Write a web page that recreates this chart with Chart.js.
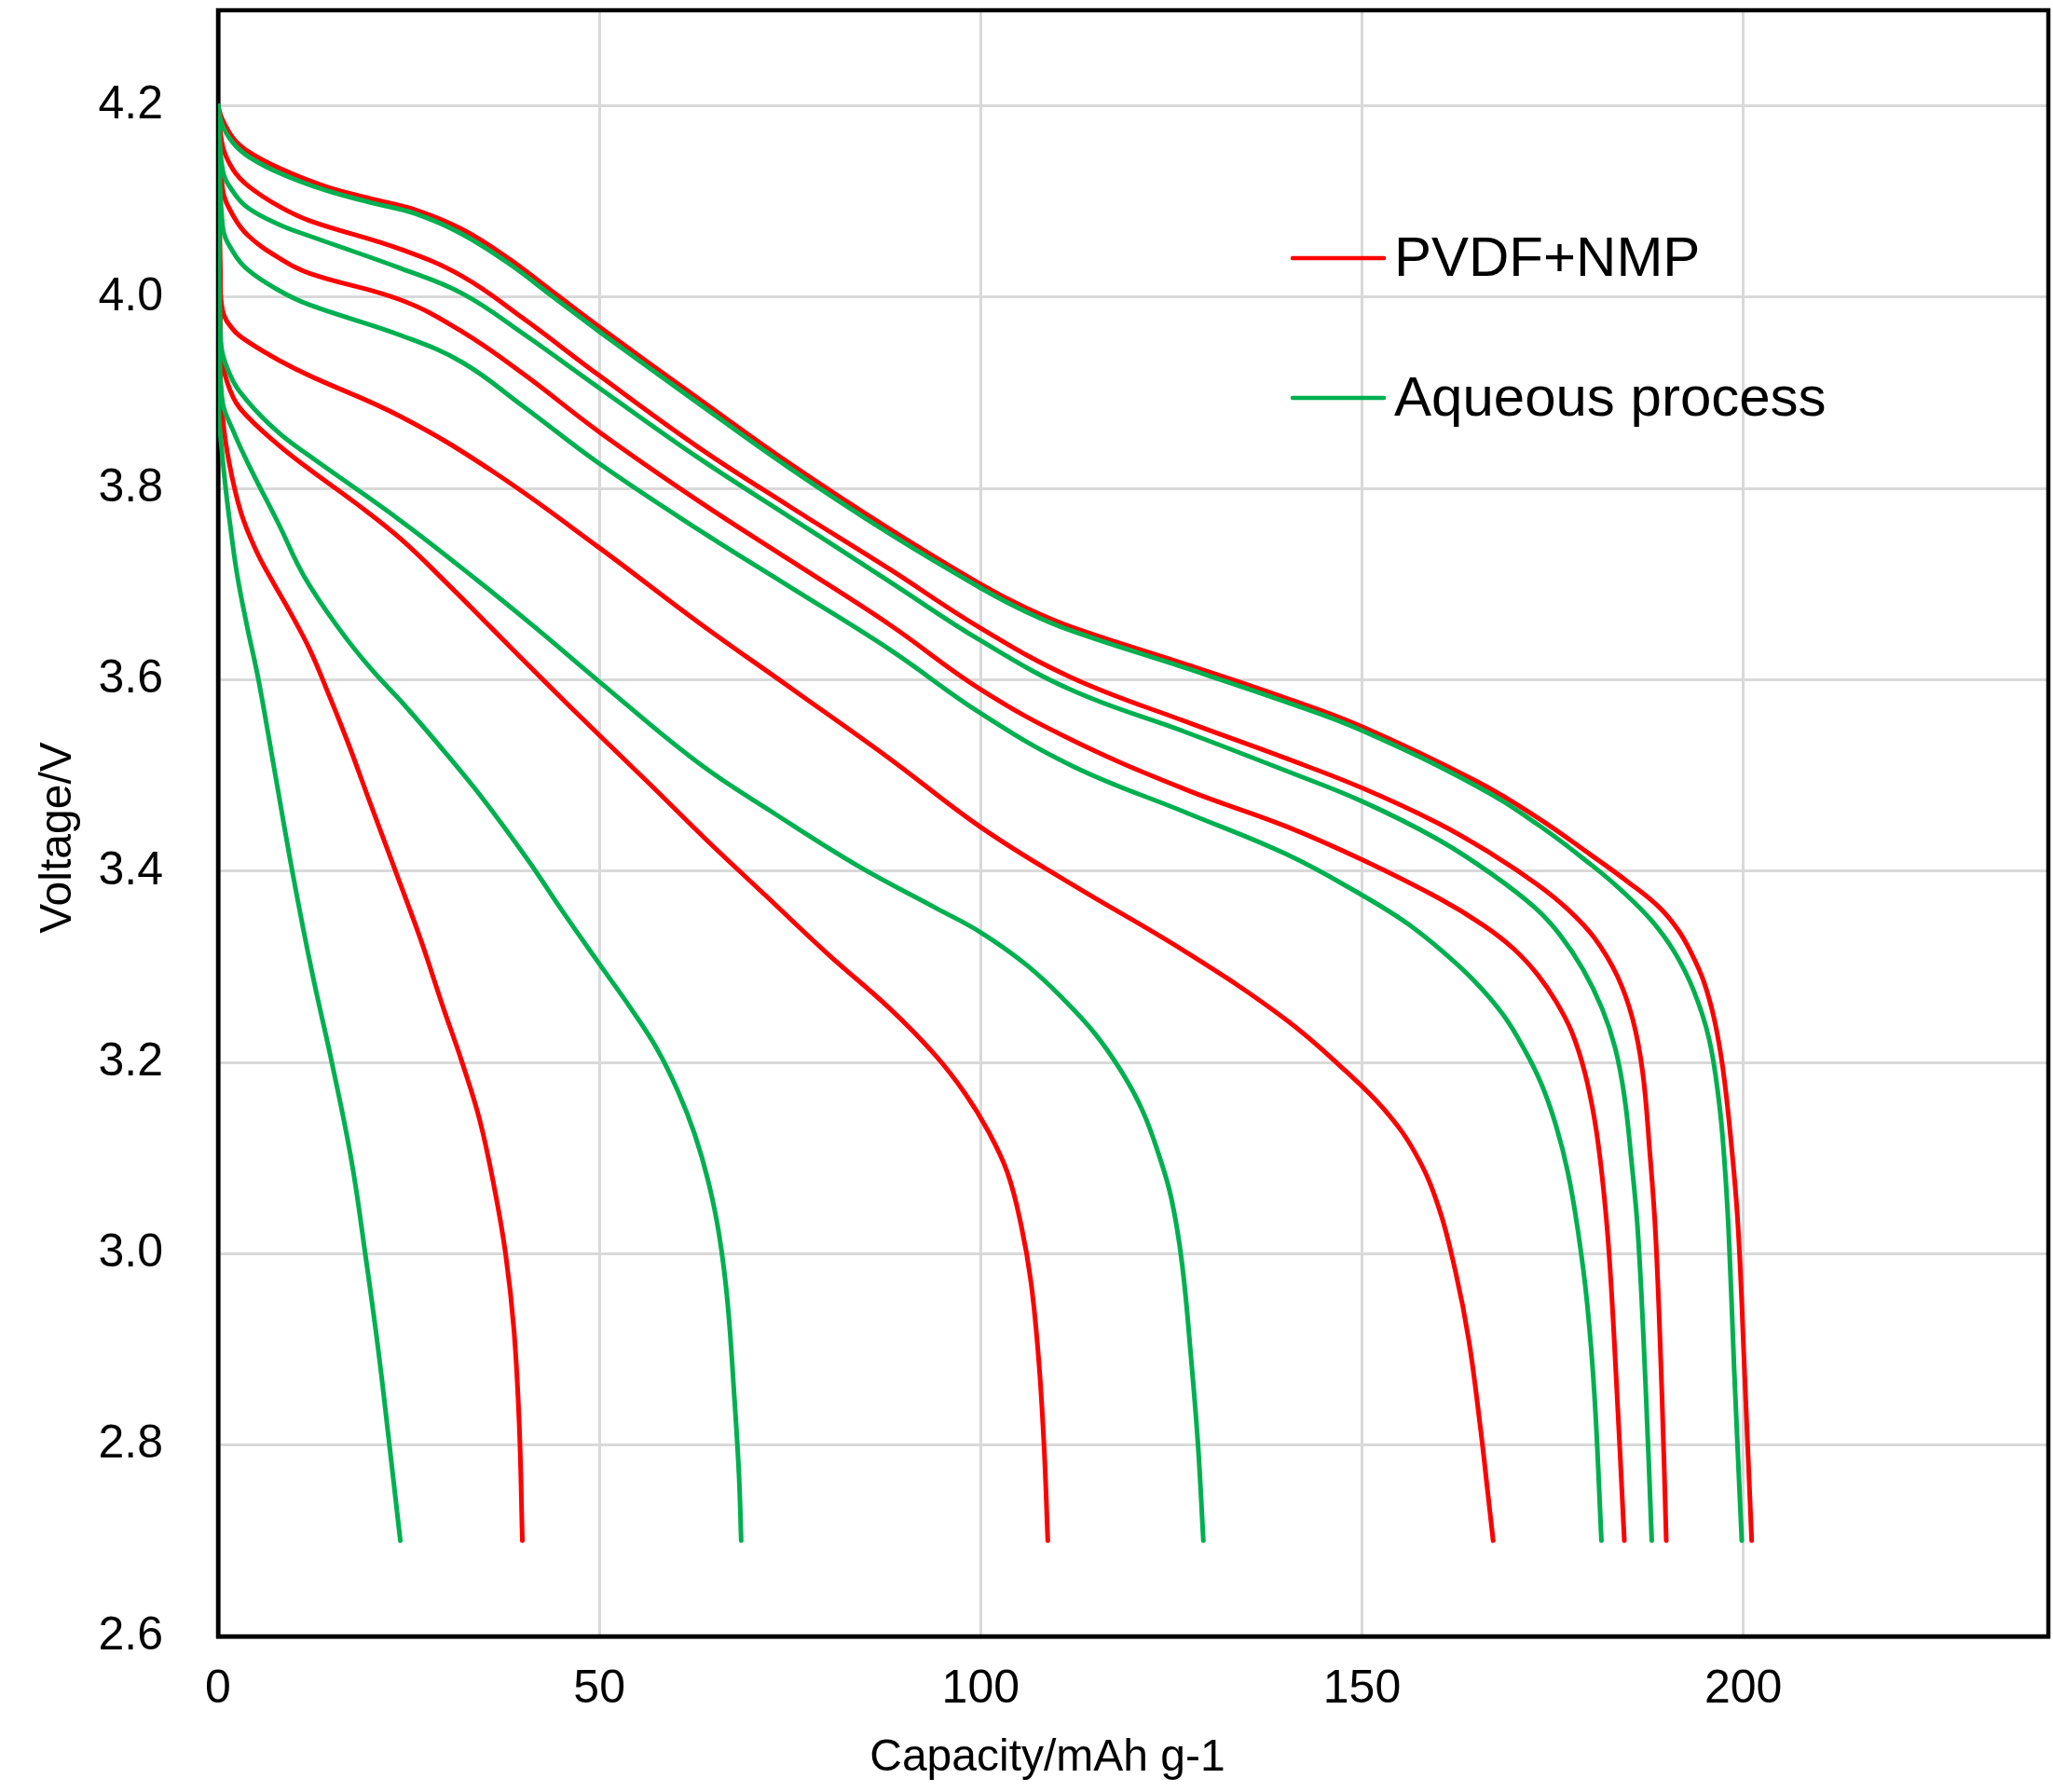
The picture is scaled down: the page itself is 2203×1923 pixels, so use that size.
<!DOCTYPE html>
<html>
<head>
<meta charset="utf-8">
<script src="https://cdn.jsdelivr.net/npm/chart.js@4/dist/chart.umd.min.js"></script>
<style>
  html, body { margin: 0; padding: 0; background: #fff; }
</style>
</head>
<body>
<canvas id="chart" width="2203" height="1923"></canvas>
<script>
// axis ticks
const xTicks = [0, 50, 100, 150, 200];
const yTicks = [2.6, 2.8, 3.0, 3.2, 3.4, 3.6, 3.8, 4.0, 4.2];
const seriesLabels = ['PVDF+NMP', 'Aqueous process'];

// PVDF+NMP curves, [capacity, voltage]
const pvdf1 = [[0,4.2],[0.5,4.187],[2,4.166],[4,4.152],[8,4.135],[14,4.116],[20,4.103],[26,4.091],[32,4.071],[38,4.041],[44,4.005],[50,3.969],[63,3.894],[75,3.826],[88,3.758],[100,3.7],[106,3.675],[112,3.655],[127,3.616],[140,3.581],[150,3.551],[165,3.494],[173,3.456],[180,3.417],[185,3.388],[189,3.362],[191.5,3.338],[193.2,3.314],[194.8,3.285],[196.2,3.245],[197.3,3.195],[198.3,3.125],[199.3,3.03],[200.2,2.87],[201.1,2.7]];
const pvdf2 = [[0,4.2],[0.6,4.158],[2,4.133],[4,4.116],[8,4.095],[12,4.08],[24,4.05],[32,4.022],[40,3.978],[50,3.918],[63,3.843],[75,3.781],[88,3.716],[100,3.654],[112,3.602],[127,3.556],[140,3.518],[150,3.487],[160,3.45],[167,3.418],[173,3.386],[177,3.36],[180.5,3.33],[183.5,3.29],[185.5,3.245],[186.8,3.19],[187.7,3.11],[188.5,3.02],[189.3,2.86],[189.9,2.7]];
const pvdf3 = [[0,4.2],[0.6,4.113],[2,4.085],[4,4.064],[8,4.041],[12,4.025],[24,3.997],[32,3.964],[40,3.92],[50,3.859],[63,3.787],[75,3.725],[88,3.658],[100,3.59],[112,3.537],[127,3.485],[140,3.447],[150,3.412],[160,3.372],[166,3.343],[170,3.318],[173,3.292],[175.5,3.263],[177.5,3.232],[179.2,3.19],[180.5,3.14],[181.5,3.08],[182.4,3.0],[183.4,2.86],[184.4,2.7]];
const pvdf4 = [[0,4.2],[0.3,4.03],[0.6,3.986],[2,3.966],[4,3.953],[8,3.934],[12,3.918],[24,3.875],[36,3.818],[50,3.738],[63,3.66],[75,3.592],[88,3.518],[100,3.446],[112,3.386],[127,3.315],[140,3.245],[148,3.19],[153,3.15],[157,3.105],[160,3.05],[162.3,2.98],[164,2.91],[165.5,2.82],[166.5,2.75],[167.2,2.7]];
const pvdf5 = [[0,4.2],[0.3,3.97],[0.6,3.93],[2,3.895],[4,3.874],[8,3.845],[12,3.82],[18,3.785],[24,3.747],[30,3.701],[36,3.653],[43,3.597],[50,3.542],[57,3.488],[64,3.433],[72,3.373],[80,3.313],[88,3.257],[94,3.208],[98,3.167],[101,3.128],[103.5,3.085],[105.3,3.03],[106.6,2.97],[107.6,2.89],[108.3,2.8],[108.8,2.7]];
const pvdf6 = [[0,4.2],[0.2,3.95],[0.6,3.875],[1.5,3.825],[3,3.775],[5,3.735],[7,3.705],[9.5,3.67],[12,3.632],[14.5,3.585],[17,3.535],[20,3.47],[23.5,3.395],[26.5,3.33],[29.5,3.258],[32,3.2],[34.3,3.14],[36.2,3.07],[37.7,3.0],[38.8,2.92],[39.5,2.82],[39.9,2.7]];

// aqueous process curves
const aq1 = [[0,4.2],[0.5,4.181],[2,4.161],[4,4.147],[8,4.13],[14,4.112],[20,4.099],[26,4.087],[32,4.066],[38,4.036],[44,4.0],[50,3.964],[63,3.889],[75,3.821],[88,3.753],[100,3.696],[106,3.671],[112,3.651],[127,3.612],[140,3.577],[150,3.547],[165,3.489],[173,3.449],[180,3.407],[184,3.38],[188,3.348],[191,3.315],[193.5,3.275],[195.5,3.225],[196.8,3.16],[197.5,3.1],[198.1,3.02],[198.8,2.88],[199.8,2.7]];
const aq2 = [[0,4.2],[0.6,4.133],[2,4.11],[4,4.093],[8,4.076],[12,4.064],[24,4.03],[32,4.004],[40,3.962],[50,3.905],[63,3.832],[75,3.77],[88,3.703],[100,3.641],[112,3.589],[127,3.545],[140,3.505],[150,3.473],[160,3.433],[167,3.397],[172.8,3.361],[176,3.333],[179,3.297],[181.5,3.256],[183.2,3.215],[184.4,3.165],[185.3,3.1],[186.2,3.02],[187.2,2.86],[188,2.7]];
const aq3 = [[0,4.2],[0.6,4.074],[2,4.047],[4,4.028],[8,4.007],[12,3.992],[24,3.96],[32,3.932],[40,3.886],[50,3.826],[63,3.757],[75,3.697],[88,3.632],[100,3.565],[112,3.51],[127,3.461],[140,3.418],[150,3.375],[156,3.345],[161,3.313],[165,3.283],[168.5,3.25],[171.2,3.215],[173.5,3.178],[175.4,3.135],[177,3.085],[178.3,3.025],[179.5,2.95],[180.5,2.85],[181.4,2.7]];
const aq4 = [[0,4.2],[0.3,3.96],[1.5,3.92],[4,3.89],[8,3.858],[12,3.834],[24,3.766],[34,3.704],[42,3.652],[50,3.598],[63,3.513],[73,3.46],[84,3.405],[94,3.362],[100,3.336],[106,3.302],[111,3.265],[115,3.23],[118.5,3.19],[121.2,3.15],[123.3,3.105],[125,3.058],[126.4,2.99],[127.6,2.89],[128.5,2.8],[129.2,2.7]];
const aq5 = [[0,4.2],[0.2,3.95],[0.6,3.89],[2,3.86],[4,3.825],[8,3.762],[11.3,3.708],[16,3.652],[20,3.612],[24.4,3.574],[30,3.522],[34.5,3.478],[40.6,3.412],[45,3.36],[50,3.303],[54,3.258],[57.5,3.215],[60.3,3.17],[62.5,3.125],[64.3,3.075],[65.7,3.02],[66.8,2.95],[67.7,2.85],[68.3,2.77],[68.6,2.7]];
const aq6 = [[0,4.2],[0.1,3.88],[0.4,3.848],[1,3.8],[1.7,3.755],[2.5,3.71],[3.7,3.66],[5.3,3.6],[7.3,3.51],[9.8,3.397],[12.3,3.295],[15,3.197],[17.5,3.097],[19.3,3.0],[21,2.9],[22.4,2.805],[23.9,2.7]];

const colors = ['#FF0000', '#00B050'];
const font = '"Liberation Sans", Arial, sans-serif';

const mkSet = (pts, k) => ({
  label: seriesLabels[k],
  data: pts.map(p => ({x: p[0], y: p[1]})),
  borderColor: colors[k],
  borderWidth: 5,
  pointRadius: 0,
  fill: false,
  tension: 0.4,
  borderCapStyle: 'round',
  borderJoinStyle: 'round',
  order: k === 0 ? 2 : 1
})

const datasets = []
;[pvdf1, pvdf2, pvdf3, pvdf4, pvdf5, pvdf6].forEach(c => datasets.push(mkSet(c, 0)))
;[aq1, aq2, aq3, aq4, aq5, aq6].forEach(c => datasets.push(mkSet(c, 1)))

// top + right border of the plot
const frame = {
  id: 'frame',
  beforeDatasetsDraw(chart) {
    const {ctx, chartArea: a} = chart
    ctx.save()
    ctx.strokeStyle = '#000'
    ctx.lineWidth = 4.5
    ctx.strokeRect(a.left, a.top, a.right - a.left, a.bottom - a.top)
    ctx.restore()
  }
}

// legend inside the plot and the two axis titles
const extras = {
  id: 'extras',
  afterDraw(chart) {
    const {ctx} = chart
    ctx.save()
    ctx.fillStyle = '#000'
    ctx.font = '60px ' + font
    ctx.textAlign = 'left'
    ctx.textBaseline = 'alphabetic'
    ctx.lineWidth = 4.5
    ctx.lineCap = 'round'
    seriesLabels.forEach((lab, i) => {
      const y = 277 + i * 150
      ctx.strokeStyle = colors[i]
      ctx.beginPath()
      ctx.moveTo(1387, y)
      ctx.lineTo(1485, y)
      ctx.stroke()
      ctx.fillText(lab, 1496, y + 19)
    })

    ctx.font = '48px ' + font
    ctx.textAlign = 'center'
    ctx.textBaseline = 'middle'
    ctx.fillText('Capacity/mAh g-1', 1124, 1887)
    ctx.translate(63, 899)
    ctx.rotate(-Math.PI / 2)
    ctx.fillText('Voltage/V', 0, 0)
    ctx.restore()
  }
}

new Chart(document.getElementById('chart'), {
  type: 'line',
  data: { datasets: datasets },
  options: {
    responsive: false,
    animation: false,
    layout: { padding: { top: 11, right: 5, left: 0, bottom: 0 } },
    plugins: { legend: { display: false }, tooltip: { enabled: false } },
    scales: {
      x: {
        type: 'linear',
        min: 0,
        max: 240,
        afterBuildTicks: s => { s.ticks = xTicks.map(v => ({value: v})) },
        afterFit: s => { s.height = 167; s.paddingLeft = 0; s.paddingRight = 0 },
        ticks: { color: '#000', font: { size: 50, family: font }, padding: 27, maxRotation: 0 },
        grid: { color: '#D9D9D9', lineWidth: 3, drawTicks: false },
        border: { color: '#000', width: 4.5 }
      },
      y: {
        min: 2.6,
        max: 4.3,
        afterBuildTicks: s => { s.ticks = yTicks.map(v => ({value: v})) },
        afterFit: s => { s.width = 234; s.paddingTop = 0; s.paddingBottom = 0 },
        ticks: { color: '#000', font: { size: 50, family: font }, padding: 59, callback: v => v.toFixed(1) },
        grid: { color: '#D9D9D9', lineWidth: 3, drawTicks: false },
        border: { color: '#000', width: 4.5 }
      }
    }
  },
  plugins: [frame, extras]
})
</script>
</body>
</html>
